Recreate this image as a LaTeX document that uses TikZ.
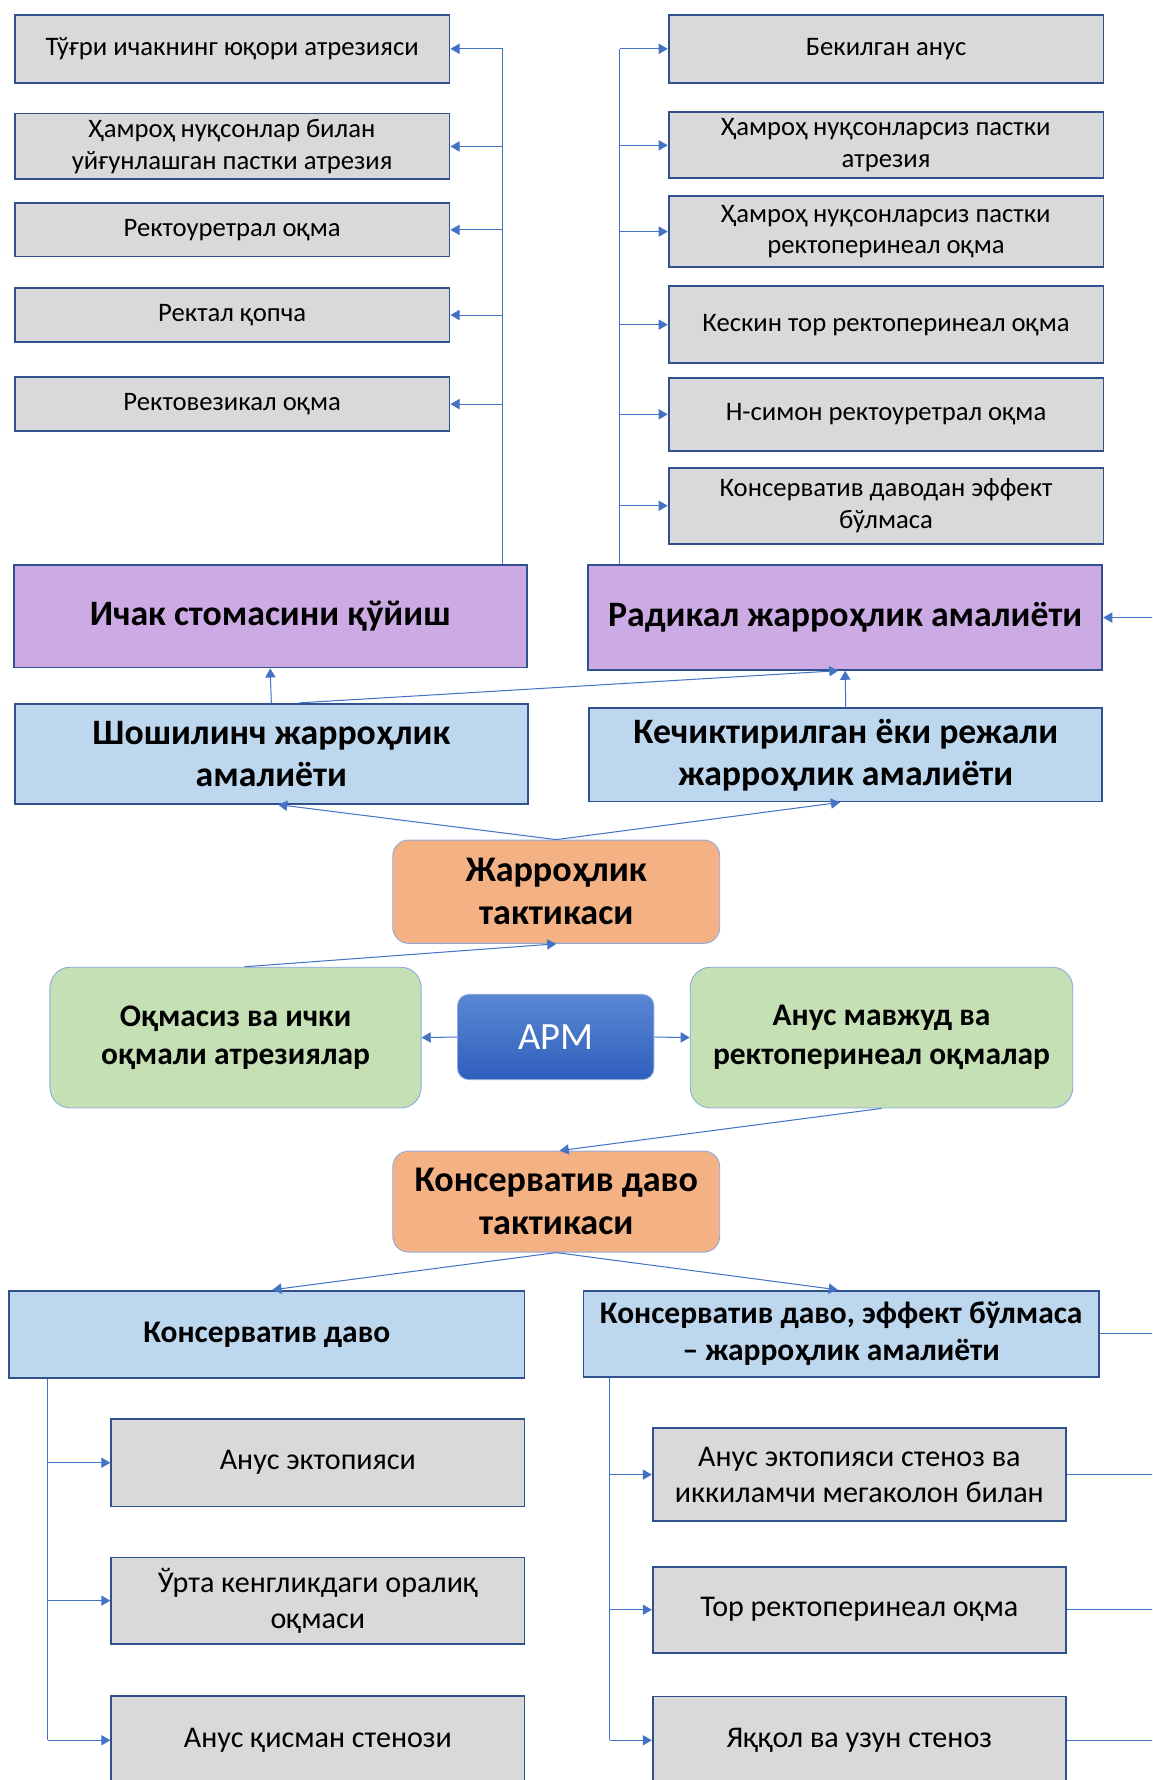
\documentclass[tikz,border=0pt]{standalone}
\usepackage{fontspec}
\setmainfont{Carlito}
\usetikzlibrary{arrows.meta,positioning,calc}
\definecolor{gfill}{RGB}{217,217,217}
\definecolor{bord}{RGB}{47,82,143}
\definecolor{pfill}{RGB}{204,170,228}
\definecolor{bfill}{RGB}{189,215,238}
\definecolor{ofill}{RGB}{244,177,131}
\definecolor{grfill}{RGB}{197,224,180}
\definecolor{lbord}{RGB}{143,170,220}
\definecolor{conn}{RGB}{68,114,196}
\definecolor{apmtop}{RGB}{90,135,210}
\definecolor{apmbot}{RGB}{47,95,190}
\tikzset{
  graybox/.style={draw=bord,line width=1.6pt,fill=gfill,rectangle,align=center,inner sep=2pt},
  topfont/.style={font=\fontsize{23.5}{28}\selectfont},
  botfont/.style={font=\fontsize{26.5}{32}\selectfont},
  purplebox/.style={draw=bord,line width=1.6pt,fill=pfill,rectangle,align=center,font=\fontsize{31.5}{37}\selectfont\bfseries},
  bluebox/.style={draw=bord,line width=1.6pt,fill=bfill,rectangle,align=center,font=\fontsize{31.5}{37}\selectfont\bfseries},
  lbluebox/.style={draw=bord,line width=1.6pt,fill=bfill,rectangle,align=center,font=\fontsize{27.7}{33}\selectfont\bfseries},
  orbox/.style={draw=lbord,line width=0.8pt,fill=ofill,rounded corners=14pt,align=center,font=\fontsize{31.8}{38}\selectfont\bfseries},
  grbox/.style={draw=lbord,line width=0.8pt,fill=grfill,rounded corners=18pt,align=center,font=\fontsize{27.7}{34}\selectfont\bfseries},
  apmbox/.style={draw=lbord,line width=0.8pt,top color=apmtop,bottom color=apmbot,rounded corners=10pt,text=white,font=\fontsize{34}{40}\selectfont},
  arr/.style={draw=conn,line width=0.9pt,-{Triangle[width=9pt,length=8pt]}},
  ln/.style={draw=conn,line width=0.9pt},
}
\begin{document}
\begin{tikzpicture}[x=1pt,y=-1pt]
\clip (0,0) rectangle (1015,1568);
\fill[white] (0,0) rectangle (1015,1568);
% top left gray boxes
\node[graybox,topfont,minimum width=383pt,minimum height=60pt] (l1) at (204.5,43) {Тўғри ичакнинг юқори атрезияси};
\node[graybox,topfont,minimum width=383pt,minimum height=58pt] (l2) at (204.5,129) {Ҳамроҳ нуқсонлар билан\\уйғунлашган пастки атрезия};
\node[graybox,topfont,minimum width=383pt,minimum height=47pt] (l3) at (204.5,202.5) {Ректоуретрал оқма};
\node[graybox,topfont,minimum width=383pt,minimum height=47pt] (l4) at (204.5,277.5) {Ректал қопча};
\node[graybox,topfont,minimum width=383pt,minimum height=48pt] (l5) at (204.5,356) {Ректовезикал оқма};
% top right gray boxes
\node[graybox,topfont,minimum width=383pt,minimum height=60pt] (r1) at (780.5,43) {Бекилган анус};
\node[graybox,topfont,minimum width=383pt,minimum height=58pt] (r2) at (780.5,128) {Ҳамроҳ нуқсонларсиз пастки\\атрезия};
\node[graybox,topfont,minimum width=383pt,minimum height=62pt] (r3) at (780.5,204) {Ҳамроҳ нуқсонларсиз пастки\\ректоперинеал оқма};
\node[graybox,topfont,minimum width=383pt,minimum height=68pt] (r4) at (780.5,286) {Кескин тор ректоперинеал оқма};
\node[graybox,topfont,minimum width=383pt,minimum height=64pt] (r5) at (780.5,365) {Н-симон ректоуретрал оқма};
\node[graybox,topfont,minimum width=383pt,minimum height=67pt] (r6) at (780.5,445.5) {Консерватив даводан эффект\\бўлмаса};
% purple
\node[purplebox,minimum width=452pt,minimum height=90pt] (ichak) at (238,543) {Ичак стомасини қўйиш};
\node[purplebox,minimum width=453pt,minimum height=92pt] (radikal) at (744.5,544) {Радикал жарроҳлик амалиёти};
% blue
\node[bluebox,minimum width=452pt,minimum height=88pt] (shosh) at (239,664) {Шошилинч жарроҳлик\\амалиёти};
\node[bluebox,minimum width=452pt,minimum height=82pt] (kech) at (745,665) {Кечиктирилган ёки режали\\жарроҳлик амалиёти};
% orange 1
\node[orbox,minimum width=288pt,minimum height=91pt] (jt) at (490,785.5) {Жарроҳлик\\тактикаси};
% green + APM
\node[grbox,minimum width=327pt,minimum height=124pt] (gl) at (207.5,914) {Оқмасиз ва ички\\оқмали атрезиялар};
\node[apmbox,minimum width=173pt,minimum height=75pt] (apm) at (489.5,913.5) {АРМ};
\node[grbox,minimum width=337pt,minimum height=124pt] (gr) at (776.5,914) {Анус мавжуд ва\\ректоперинеал оқмалар};
% orange 2
\node[orbox,minimum width=288pt,minimum height=89pt] (kt) at (490,1058.5) {Консерватив даво\\тактикаси};
% lower blue
\node[lbluebox,minimum width=454pt,minimum height=77pt] (kd) at (235,1175.5) {Консерватив даво};
\node[lbluebox,minimum width=454pt,minimum height=76pt] (kdj) at (741,1175) {Консерватив даво, эффект бўлмаса\\– жарроҳлик амалиёти};
% bottom left gray
\node[graybox,botfont,minimum width=364pt,minimum height=77pt] (b1) at (280,1288.5) {Анус эктопияси};
\node[graybox,botfont,minimum width=364pt,minimum height=76pt] (b2) at (280,1410) {Ўрта кенгликдаги оралиқ\\оқмаси};
\node[graybox,botfont,minimum width=364pt,minimum height=78pt] (b3) at (280,1533) {Анус қисман стенози};
% bottom right gray
\node[graybox,botfont,minimum width=364pt,minimum height=82pt] (c1) at (757,1299) {Анус эктопияси стеноз ва\\иккиламчи мегаколон билан};
\node[graybox,botfont,minimum width=364pt,minimum height=76pt] (c2) at (757,1418) {Тор ректоперинеал оқма};
\node[graybox,botfont,minimum width=364pt,minimum height=77pt] (c3) at (757,1533) {Яққол ва узун стеноз};
% spine coordinates
\coordinate (lsp) at (443,0);
\coordinate (rsp) at (546,0);
\coordinate (blsp) at (42,0);
\coordinate (brsp) at (537,0);
\coordinate (edge) at (1030,0);
% top left spine
\draw[ln] (ichak.north -| lsp) -- (l1.east -| lsp);
\foreach \n in {l1,l2,l3,l4,l5} {\draw[arr] (\n.east -| lsp) -- (\n.east);}
% top right spine
\draw[ln] (radikal.north -| rsp) -- (r1.west -| rsp);
\foreach \n in {r1,r2,r3,r4,r5,r6} {\draw[arr] (\n.west -| rsp) -- (\n.west);}
% into radikal from right
\draw[arr] (radikal.east -| edge) -- (radikal.east);
% blue to purple
\draw[arr] (shosh.north) -- (ichak.south);
\draw[arr] ([xshift=24pt]shosh.north) -- ([xshift=-6pt]radikal.south);
\draw[arr] (kech.north) -- (radikal.south);
% surgical tactic
\draw[arr] (jt.north) -- ([xshift=6pt]shosh.south);
\draw[arr] (jt.north) -- ([xshift=-5pt]kech.south);
\draw[arr] ([xshift=8pt]gl.north) -- (jt.south);
% APM
\draw[arr] (apm.west) -- (gl.east);
\draw[arr] (apm.east) -- (gr.west);
% conservative tactic
\draw[arr] (gr.south) -- ([xshift=3pt]kt.north);
\draw[arr] (kt.south) -- ([xshift=5pt]kd.north);
\draw[arr] (kt.south) -- ([xshift=-3pt]kdj.north);
\draw[ln] (kdj.east) -- (kdj.east -| edge);
% bottom left spine
\draw[ln] (kd.south -| blsp) -- (b3.west -| blsp);
\foreach \n in {b1,b2,b3} {\draw[arr] (\n.west -| blsp) -- (\n.west);}
% bottom right spine
\draw[ln] (kdj.south -| brsp) -- (c3.west -| brsp);
\foreach \n in {c1,c2,c3} {\draw[arr] (\n.west -| brsp) -- (\n.west); \draw[ln] (\n.east) -- (\n.east -| edge);}
\end{tikzpicture}
\end{document}
